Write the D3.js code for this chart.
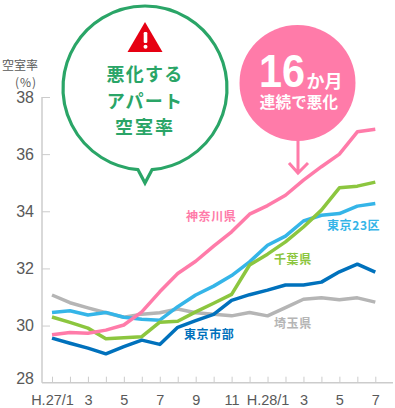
<!DOCTYPE html>
<html>
<head>
<meta charset="utf-8">
<script src="https://cdnjs.cloudflare.com/ajax/libs/d3/7.8.5/d3.min.js"></script>
<style>
html, body { margin: 0; padding: 0; background: #fff; }
svg { display: block; }
.jp { font-family: "Noto Sans CJK JP", sans-serif; font-weight: 700; }
.axis text { font-family: "Liberation Sans", Arial, sans-serif; fill: #595959; }
</style>
</head>
<body>
<div id="chart"></div>
<script>
// months along the bottom, only the odd ones get a label
const months = ["H.27/1","2","3","4","5","6","7","8","9","10","11","12","H.28/1","2b","3b","4b","5b","6b","7b"];
const yTicks = [28, 30, 32, 34, 36, 38];

const saitama  = [31.07,30.80,30.62,30.45,30.29,30.40,30.45,30.58,30.45,30.40,30.34,30.46,30.34,30.63,30.92,30.97,30.90,30.97,30.82];
const tokyo23  = [30.46,30.52,30.37,30.46,30.29,30.22,30.19,30.66,31.07,31.38,31.75,32.23,32.81,33.13,33.66,33.86,33.92,34.18,34.27];
const chiba    = [30.30,30.11,29.91,29.54,29.57,29.61,30.12,30.15,30.48,30.78,31.09,32.12,32.50,32.93,33.45,34.04,34.82,34.88,35.02];
const tokyoCity = [29.56,29.38,29.21,29.01,29.26,29.49,29.34,29.94,30.17,30.39,30.88,31.08,31.24,31.42,31.42,31.52,31.88,32.15,31.87];
const kanagawa = [29.68,29.76,29.73,29.84,30.02,30.48,31.18,31.82,32.25,32.78,33.28,33.90,34.20,34.56,35.09,35.56,36.00,36.78,36.87];

const width = 395, height = 408;

const svg = d3.select("#chart").append("svg")
  .attr("width", width)
  .attr("height", height);

const x = d3.scalePoint().domain(months).range([52, 375.3]);
const y = d3.scaleLinear().domain([28, 38]).range([382.7, 97]);

const grey = "#cccccc";

// axes
const xAxis = d3.axisBottom(x)
  .tickSize(-6)
  .tickPadding(12)
  .tickFormat(d => {
    const i = months.indexOf(d);
    return i % 2 == 0 ? d.replace("b", "") : "";
  });
const gx = svg.append("g").attr("class", "axis")
  .attr("transform", "translate(0,382.7)")
  .call(xAxis);
gx.select(".domain").attr("d", "M42,0H393").attr("stroke", grey).attr("stroke-width", 1.5);
gx.selectAll("line").attr("stroke", grey).attr("stroke-width", 1);
gx.selectAll("text").attr("font-size", 14.5);

const yAxis = d3.axisLeft(y).tickValues(yTicks).tickSize(-8).tickPadding(8);
const gy = svg.append("g").attr("class", "axis")
  .attr("transform", "translate(42,0)")
  .call(yAxis);
gy.select(".domain").attr("d", "M0,97V382.7").attr("stroke", grey).attr("stroke-width", 1.5);
gy.selectAll("line").attr("stroke", grey).attr("stroke-width", 1);
gy.selectAll("text").attr("font-size", 16);
// 28 sits up off the baseline, and has no tick of its own
gy.selectAll(".tick").filter(d => d == 28).select("text").attr("dy", "0.02em");
gy.selectAll(".tick").filter(d => d == 28).select("line").remove();

// lines
const line = d3.line().x((d, i) => x(months[i])).y(d => y(d));
const series = [
  {values: saitama, color: "#b5b5b5"},
  {values: tokyo23, color: "#35b5e8"},
  {values: chiba, color: "#8cc63f"},
  {values: tokyoCity, color: "#0071bc"},
  {values: kanagawa, color: "#ff7ba9"}
];
svg.selectAll(".series").data(series).join("path")
  .attr("class", "series")
  .attr("fill", "none")
  .attr("stroke", d => d.color)
  .attr("stroke-width", 3.5)
  .attr("stroke-linejoin", "round")
  .attr("d", d => line(d.values));

function label(txt, px, py, size, color, anchor, ls) {
  return svg.append("text").attr("class", "jp")
    .attr("x", px).attr("y", py)
    .attr("font-size", size)
    .attr("fill", color)
    .attr("text-anchor", anchor || "start")
    .attr("letter-spacing", ls || 0)
    .text(txt);
}

label("神奈川県", 186, 221, 12, "#ff7ba9", "start", 0.6);
label("東京23区", 327, 230, 12, "#35b5e8", "start", 0.6);
label("千葉県", 274, 264, 12, "#8cc63f", "start", 0.6);
label("東京市部", 184, 339, 12, "#0071bc", "start", 0.6);
label("埼玉県", 274, 328, 12, "#b5b5b5", "start", 0.6);

// y title
label("空室率", 2, 70, 12, "#595959").style("font-weight", 400);
label("(%)", 15, 87, 12, "#595959", "start", 1).style("font-weight", 400);

// green callout
const green = "#2aa567";
svg.append("path")
  .attr("d", "M138,169.7 A82,82 0 1 1 152,169.7 L145,183 Z")
  .attr("fill", "#fff")
  .attr("stroke", green)
  .attr("stroke-width", 3.2);
svg.append("path").attr("d", "M145,22 L162.5,52 H127.5 Z").attr("fill", "#e60012");
svg.append("rect").attr("x", 143.7).attr("y", 32).attr("width", 3.6).attr("height", 11).attr("rx", 1.2).attr("fill", "#fff");
svg.append("circle").attr("cx", 145.5).attr("cy", 46.7).attr("r", 2).attr("fill", "#fff");
label("悪化する", 145, 81, 18, green, "middle", 1.2);
label("アパート", 145, 108, 18, green, "middle", 1.2);
label("空室率", 145, 134, 18, green, "middle", 2);

// pink badge and arrow
const pink = "#ff7ba9";
svg.append("circle").attr("cx", 297.5).attr("cy", 83).attr("r", 58).attr("fill", pink);
svg.append("path")
  .attr("d", "M298,140V173M289,163L298,173L308,163")
  .attr("fill", "none")
  .attr("stroke", pink)
  .attr("stroke-width", 3);
svg.append("text")
  .attr("x", 259).attr("y", 87)
  .attr("font-family", "'Liberation Sans', Arial, sans-serif")
  .attr("font-weight", 700)
  .attr("font-size", 46)
  .attr("textLength", 46)
  .attr("lengthAdjust", "spacingAndGlyphs")
  .attr("fill", "#fff")
  .text("16");
label("か月", 306.5, 88, 18, "#fff", "start", 0);
label("連続で悪化", 299, 108, 15.5, "#fff", "middle", 0.2);
</script>
</body>
</html>
